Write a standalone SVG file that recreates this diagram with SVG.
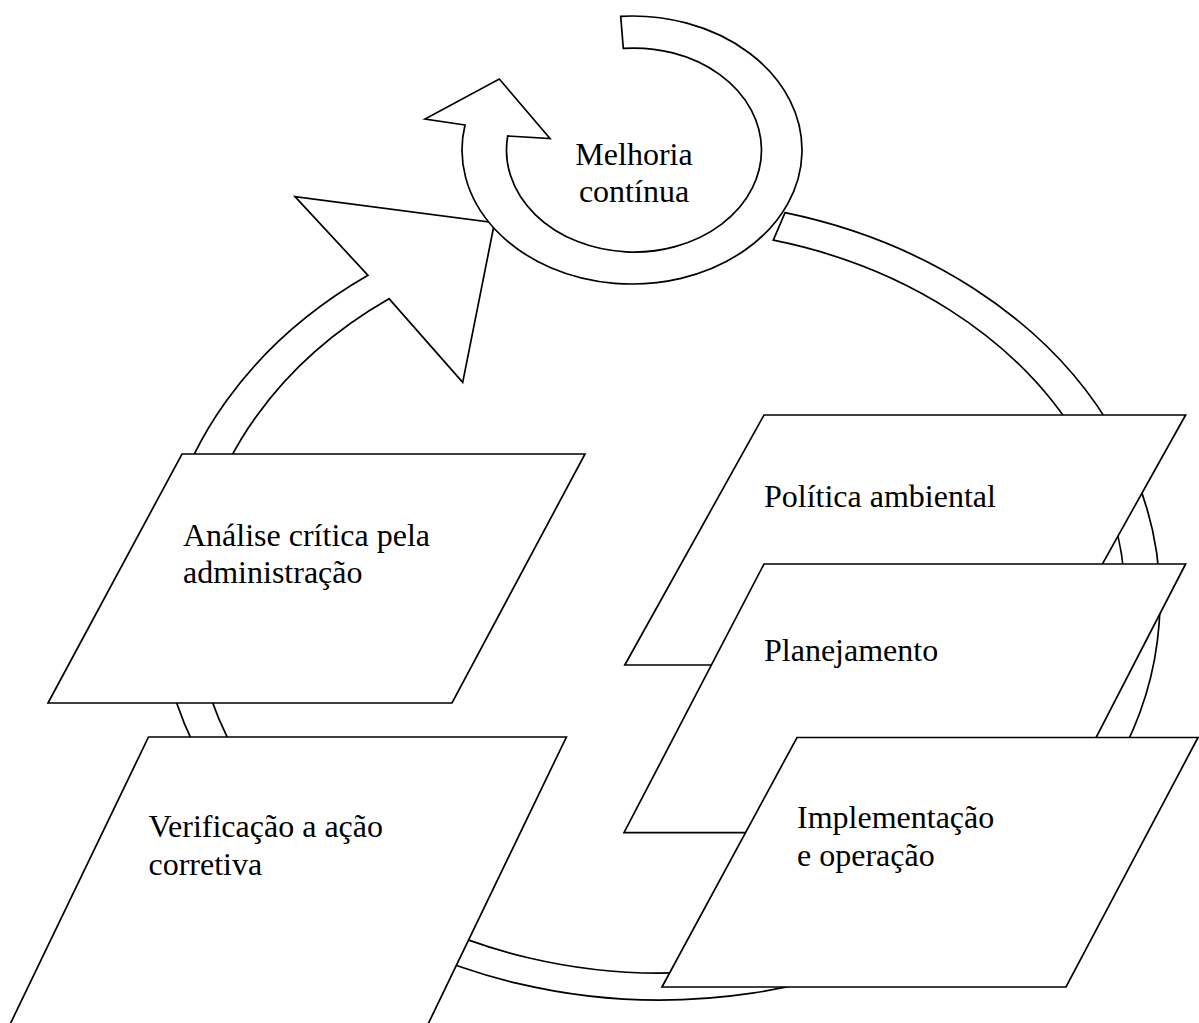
<svg xmlns="http://www.w3.org/2000/svg" width="1199" height="1023" viewBox="0 0 1199 1023">
<style>
.shape{fill:#fff;stroke:#000;stroke-width:1.7;stroke-linejoin:miter}
.lbl{font-family:"Liberation Serif","Times New Roman",serif;font-size:32px;fill:#000}
</style>
<rect width="1199" height="1023" fill="#fff"/>
<g id="connectors">
<path id="cycle-arrow" class="shape" d="M368,275.3 L295,196.7 L494.5,222.7 L462.7,382.3 L389,298.7 A465 372 0 1 0 773.3,240.2 L785,212.7 A500 400 0 1 1 368,275.3 Z"/>
</g>
<g id="melhoria">
<path class="shape" d="M465,125 L425,119 L499.3,79 L550,138.5 L507.7,136 A127.5 102 0 1 0 623.3,48.4 L620.7,16.3 A170 134 0 1 1 465,125 Z"/>
<text class="lbl" x="634" y="165" text-anchor="middle">Melhoria</text>
<text class="lbl" x="634" y="202" text-anchor="middle">contínua</text>
</g>
<g id="analise">
<polygon class="shape" points="182,454 585,454 452,703 48,703"/>
<text class="lbl" x="183" y="546">Análise crítica pela</text>
<text class="lbl" x="183" y="583">administração</text>
</g>
<g id="verificacao">
<polygon class="shape" points="148.5,737 566.4,737 420.4,1040 2.5,1040"/>
<text class="lbl" x="148.5" y="837">Verificação a ação</text>
<text class="lbl" x="148.5" y="875">corretiva</text>
</g>
<g id="politica">
<polygon class="shape" points="764,415 1185.6,415 1046,665 624.8,665"/>
<text class="lbl" x="764" y="507">Política ambiental</text>
</g>
<g id="planejamento">
<polygon class="shape" points="764,564 1185.6,564 1047,832.7 624,832.7"/>
<text class="lbl" x="764" y="661">Planejamento</text>
</g>
<g id="implementacao">
<polygon class="shape" points="797,737.5 1198,737.5 1066,987 662,987"/>
<text class="lbl" x="797" y="828">Implementação</text>
<text class="lbl" x="797" y="866">e operação</text>
</g>
</svg>
